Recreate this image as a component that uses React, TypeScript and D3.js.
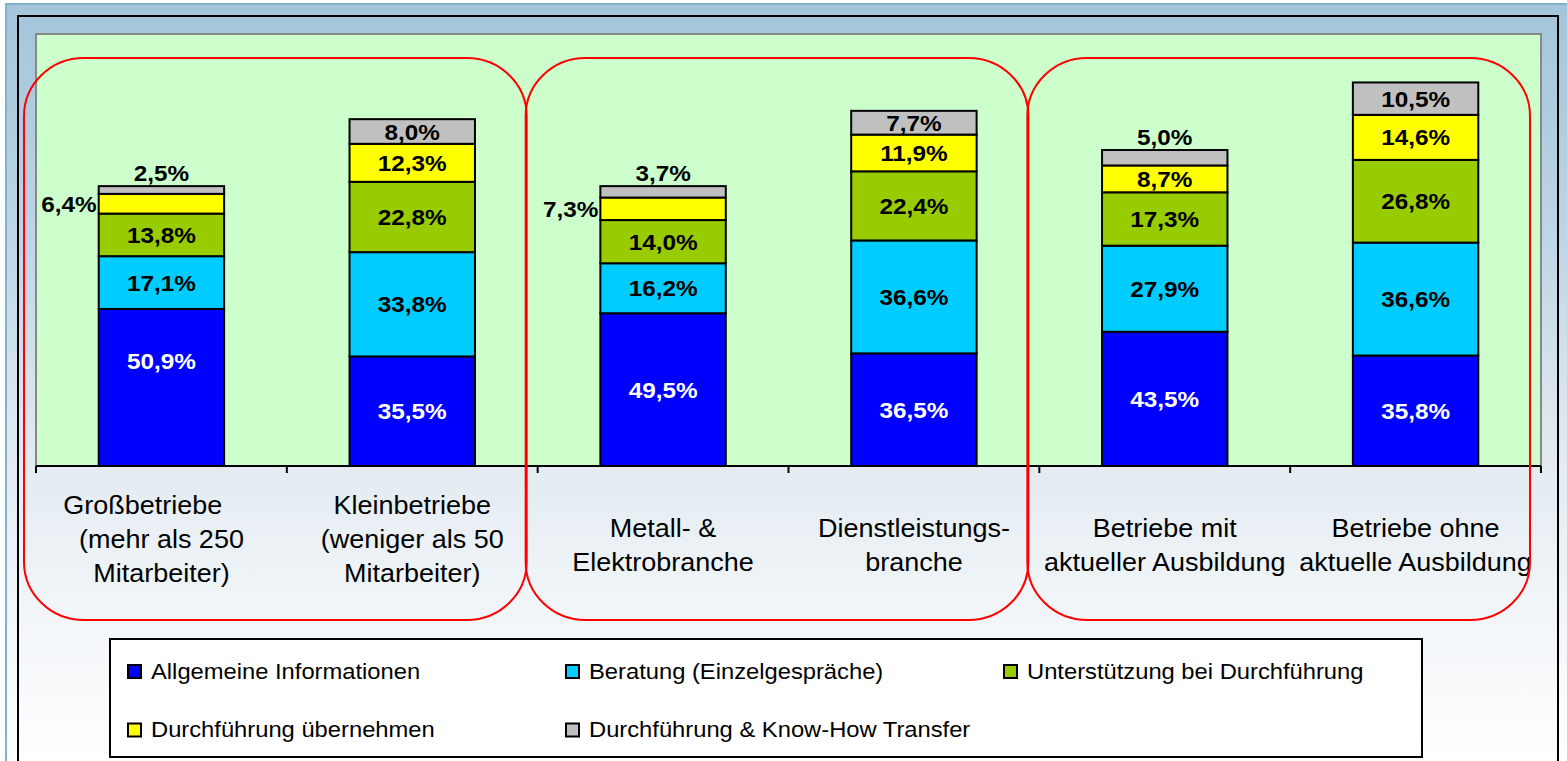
import * as d3 from "d3";

// categories (x axis), shown as wrapped lines under the axis
const categories = ["gross", "klein", "metall", "dienst", "mitAusb", "ohneAusb"];
const categoryLines = [
  ["Großbetriebe\u00a0\u00a0\u00a0\u00a0\u00a0", "(mehr als 250", "Mitarbeiter)"],
  ["Kleinbetriebe", "(weniger als 50", "Mitarbeiter)"],
  ["Metall- &", "Elektrobranche"],
  ["Dienstleistungs-", "branche"],
  ["Betriebe mit", "aktueller Ausbildung"],
  ["Betriebe ohne", "aktuelle Ausbildung"],
];

// series, bottom to top
const seriesNames = [
  "Allgemeine Informationen",
  "Beratung (Einzelgespräche)",
  "Unterstützung bei Durchführung",
  "Durchführung übernehmen",
  "Durchführung & Know-How Transfer",
];
const allgemein = [50.9, 35.5, 49.5, 36.5, 43.5, 35.8];
const beratung = [17.1, 33.8, 16.2, 36.6, 27.9, 36.6];
const unterstuetzung = [13.8, 22.8, 14.0, 22.4, 17.3, 26.8];
const uebernehmen = [6.4, 12.3, 7.3, 11.9, 8.7, 14.6];
const knowHow = [2.5, 8.0, 3.7, 7.7, 5.0, 10.5];
const seriesValues = [allgemein, beratung, unterstuetzung, uebernehmen, knowHow];

// red hand-drawn groups: [first category, last category]
const groups = [[0, 1], [2, 3], [4, 5]];

const palette = ["#0000ff", "#00ccff", "#99cc00", "#ffff00", "#c0c0c0"];
const labelFill = ["#ffffff", "#000000", "#000000", "#000000", "#000000"];

// the 50,9% label was dragged up in the original
const labelNudge: Record<string, number> = { "0-0": -26 };

const W = 1567;
const H = 761;
const plot = { left: 36, right: 1541, top: 34, bottom: 466 };
const SX = 1.08; // text in the picture is a bit wide
const FONT = "'Liberation Sans', Arial, sans-serif";

const fmt = (v: number) => d3.format(".1f")(v).replace(".", ",") + "%";

function Txt({ x, y, anchor = "middle", size, weight = "normal", fill = "#000", children }: any) {
  return (
    <text
      transform={`translate(${x},${y}) scale(${SX},1)`}
      textAnchor={anchor}
      fontSize={size}
      fontWeight={weight}
      fill={fill}
      fontFamily={FONT}
    >
      {children}
    </text>
  );
}

export default function App() {
  const x = d3.scaleBand<string>()
    .domain(categories)
    .range([plot.left, plot.right])
    .paddingInner(0.5)
    .paddingOuter(0.25);

  const y = d3.scaleLinear()
    .domain([0, 140])
    .range([plot.bottom, plot.top]);

  const table = categories.map((c, i) => {
    const row: any = { cat: c };
    seriesNames.forEach((s, j) => (row[s] = seriesValues[j][i]));
    return row;
  });
  const stacked = d3.stack().keys(seriesNames)(table);

  const step = x.step();
  const x0 = x.range()[0];
  const ticks = d3.range(categories.length + 1).map(i => x0 + i * step);
  const bw = x.bandwidth();

  return (
    <svg width={W} height={H} style={{ position: "absolute", left: 0, top: 0, display: "block" }}>
      <defs>
        <linearGradient id="bg" x1="0" y1="0" x2="0" y2="1">
          <stop offset="0" stopColor="#a3c5da" />
          <stop offset="0.3" stopColor="#bdd5e4" />
          <stop offset="0.6" stopColor="#e3ebf1" />
          <stop offset="0.85" stopColor="#f5f8fa" />
          <stop offset="1" stopColor="#ffffff" />
        </linearGradient>
      </defs>
      <rect width={W} height={H} fill="#ffffff" />
      <rect x={6} y={4} width={W} height={H} fill="url(#bg)" stroke="#7fb3d0" strokeWidth={2} />
      <rect x={18} y={16} width={1540} height={H} fill="none" stroke="#000" strokeWidth={2} />

      {/* plot area */}
      <rect
        x={plot.left}
        y={plot.top}
        width={plot.right - plot.left}
        height={plot.bottom - plot.top}
        fill="#ccffcc"
        stroke="#888"
        strokeWidth={2}
      />

      {/* bars */}
      {stacked.map((layer, j) => (
        <g key={j} fill={palette[j]} stroke="#000" strokeWidth={2}>
          {layer.map((d, i) => (
            <rect
              key={i}
              x={x(categories[i])}
              y={y(d[1])}
              width={bw}
              height={y(d[0]) - y(d[1])}
            />
          ))}
        </g>
      ))}

      {/* value labels */}
      {stacked.map((layer, j) =>
        layer.map((d, i) => {
          const v = seriesValues[j][i];
          const cx = x(categories[i])! + bw / 2;
          const top = j === seriesNames.length - 1;
          const nudge = labelNudge[`${j}-${i}`] || 0;
          if (v >= 7.5) {
            return (
              <Txt key={`${j}-${i}`} x={cx} y={(y(d[0]) + y(d[1])) / 2 + 8 + nudge} size={22.5} weight="bold" fill={labelFill[j]}>
                {fmt(v)}
              </Txt>
            );
          }
          if (top) {
            return (
              <Txt key={`${j}-${i}`} x={cx} y={y(d[1]) - 5} size={22.5} weight="bold">
                {fmt(v)}
              </Txt>
            );
          }
          return (
            <Txt
              key={`${j}-${i}`}
              x={x(categories[i])! - 2}
              y={(y(d[0]) + y(d[1])) / 2 + 8}
              anchor="end"
              size={22.5}
              weight="bold"
            >
              {fmt(v)}
            </Txt>
          );
        })
      )}

      {/* axis */}
      <line x1={plot.left} x2={plot.right} y1={plot.bottom} y2={plot.bottom} stroke="#000" strokeWidth={2} />
      {ticks.map((t, i) => (
        <line key={i} x1={t} x2={t} y1={plot.bottom} y2={plot.bottom + 7} stroke="#000" strokeWidth={2} />
      ))}
      {categoryLines.map((lines, i) => {
        const cx = x(categories[i])! + bw / 2;
        const mid = 548 + (3 - lines.length) * 5.5;
        const lh = 34;
        return (
          <g key={i}>
            {lines.map((ln, k) => (
              <Txt key={k} x={cx} y={mid + (k - (lines.length - 1) / 2) * lh} size={25}>
                {ln}
              </Txt>
            ))}
          </g>
        );
      })}

      {/* group outlines */}
      {groups.map(([a, b], i) => {
        const left = x(categories[a])! - step * 0.25 - 12;
        const right = x(categories[b])! + bw + step * 0.25 - 11;
        return (
          <rect
            key={i}
            x={left}
            y={58}
            width={right - left}
            height={562}
            rx={60}
            ry={58}
            fill="none"
            stroke="#ff0000"
            strokeWidth={2}
          />
        );
      })}

      {/* legend */}
      <rect x={110} y={639} width={1312} height={118} fill="#ffffff" stroke="#000" strokeWidth={2} />
      {seriesNames.map((s, j) => {
        const lx = 128 + (j % 3) * 438;
        const ly = 665 + Math.floor(j / 3) * 58.5;
        return (
          <g key={s}>
            <rect x={lx} y={ly} width={13} height={13} fill={palette[j]} stroke="#000" strokeWidth={2} />
            <Txt x={lx + 23} y={ly + 13.5} anchor="start" size={22}>
              {s}
            </Txt>
          </g>
        );
      })}
    </svg>
  );
}
